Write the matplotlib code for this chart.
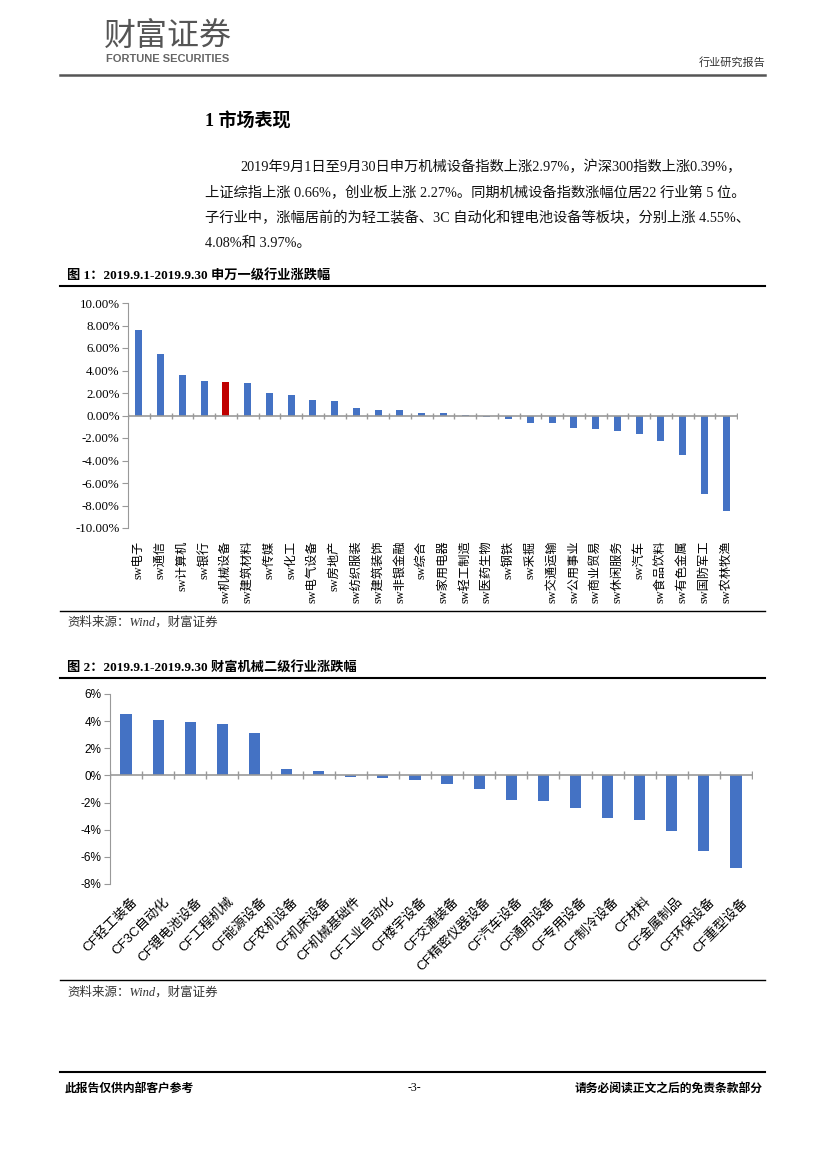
import numpy as np
import matplotlib
matplotlib.use('Agg')
import matplotlib.pyplot as plt
from matplotlib.lines import Line2D
from matplotlib.ticker import FuncFormatter

plt.rcParams['font.family'] = ['Liberation Serif', 'Noto Sans CJK SC', 'DejaVu Sans']
plt.rcParams['axes.unicode_minus'] = False

# 图1 申万一级行业涨跌幅 (%)
sw_names = ['sw电子', 'sw通信', 'sw计算机', 'sw银行', 'sw机械设备', 'sw建筑材料', 'sw传媒',
            'sw化工', 'sw电气设备', 'sw房地产', 'sw纺织服装', 'sw建筑装饰', 'sw非银金融', 'sw综合',
            'sw家用电器', 'sw轻工制造', 'sw医药生物', 'sw钢铁', 'sw采掘', 'sw交通运输', 'sw公用事业',
            'sw商业贸易', 'sw休闲服务', 'sw汽车', 'sw食品饮料', 'sw有色金属', 'sw国防军工', 'sw农林牧渔']
sw_values = [7.60, 5.50, 3.60, 3.10, 2.97, 2.85, 2.00, 1.80, 1.40, 1.30, 0.70, 0.50, 0.45, 0.25,
             0.20, 0.05, -0.10, -0.30, -0.65, -0.70, -1.10, -1.20, -1.40, -1.60, -2.25, -3.50,
             -6.95, -8.50]
highlight = 'sw机械设备'

# 图2 财富机械二级行业涨跌幅 (%)
cf_names = ['CF轻工装备', 'CF3C自动化', 'CF锂电池设备', 'CF工程机械', 'CF能源设备', 'CF农机设备',
            'CF机床设备', 'CF机械基础件', 'CF工业自动化', 'CF楼宇设备', 'CF交通装备', 'CF精密仪器设备',
            'CF汽车设备', 'CF通用设备', 'CF专用设备', 'CF制冷设备', 'CF材料', 'CF金属制品',
            'CF环保设备', 'CF重型设备']
cf_values = [4.55, 4.08, 3.97, 3.80, 3.15, 0.50, 0.30, -0.15, -0.20, -0.30, -0.65, -1.00,
             -1.80, -1.85, -2.40, -3.10, -3.25, -4.10, -5.55, -6.85]

BLUE = '#4472C4'
RED = '#C00000'
CJK = ['Noto Sans CJK SC', 'DejaVu Sans']
SERIF = ['Liberation Serif', 'Noto Sans CJK SC']

W, H = 827, 1169
fig = plt.figure(figsize=(W / 100, H / 100), dpi=100)
fig.patch.set_facecolor('white')


def fx(x):
    return x / W


def fy(y):
    return 1 - y / H


def hline(y, x0=60, x1=765, lw=1.2, color='black'):
    fig.add_artist(Line2D([fx(x0), fx(x1)], [fy(y), fy(y)], lw=lw, color=color))


def axes_px(x0, y0, x1, y1):
    return fig.add_axes([fx(x0), fy(y1), fx(x1) - fx(x0), fy(y0) - fy(y1)])


# 页眉
fig.text(fx(104), fy(37), '财富证券', family=CJK, fontsize=23, color='#555555', va='center')
fig.text(fx(106), fy(59), 'FORTUNE SECURITIES', family=['Liberation Sans'], fontsize=8,
         fontweight='bold', color='#666666', va='center')
fig.text(fx(765), fy(62), '行业研究报告', family=CJK, fontsize=8, color='#333333',
         ha='right', va='center')
hline(75, lw=1.8, color='#555555')

# 正文
fig.text(fx(205), fy(122), '1 市场表现', family=SERIF, fontsize=13, fontweight='bold', va='center')
para = ['2019年9月1日至9月30日申万机械设备指数上涨2.97%，沪深300指数上涨0.39%，',
        '上证综指上涨 0.66%，创业板上涨 2.27%。同期机械设备指数涨幅位居22 行业第 5 位。',
        '子行业中，涨幅居前的为轻工装备、3C 自动化和锂电池设备等板块，分别上涨 4.55%、',
        '4.08%和 3.97%。']
para_x = [240, 205, 205, 205]
para_y = [167, 193, 218, 243]
for t, x, y in zip(para, para_x, para_y):
    fig.text(fx(x), fy(y), t, family=SERIF, fontsize=10.3, va='center', color='#111111')

# 图1
fig.text(fx(67), fy(275), '图 1：2019.9.1-2019.9.30 申万一级行业涨跌幅', family=SERIF,
         fontsize=9.5, fontweight='bold', va='center')
hline(286, lw=1.5)

ax1 = axes_px(128, 303, 737, 528)
x1 = np.arange(len(sw_names))
colors1 = [RED if n == highlight else BLUE for n in sw_names]
ax1.bar(x1, sw_values, width=0.33, color=colors1, zorder=2)
ax1.set_xlim(-0.5, len(sw_names) - 0.5)
ax1.set_ylim(-10, 10)
ax1.set_yticks(np.arange(-10, 10.1, 2))
ax1.yaxis.set_major_formatter(FuncFormatter(lambda v, _: '{:.2f}%'.format(v)))
ax1.axhline(0, color='#999999', lw=1.2, zorder=3)
ax1.plot(np.arange(len(sw_names) + 1) - 0.5, np.zeros(len(sw_names) + 1), ls='none',
         marker='|', ms=5, color='#999999', zorder=3)
ax1.set_xticks(x1)
ax1.set_xticklabels(sw_names, rotation=90, va='top', ha='center', family=SERIF, fontsize=8.8)
ax1.tick_params(axis='x', length=0, pad=9)
ax1.tick_params(axis='y', length=4, color='#999999', labelsize=9.3, pad=2)
for s in ['top', 'right', 'bottom']:
    ax1.spines[s].set_visible(False)
ax1.spines['left'].set_color('#999999')

hline(611, lw=1.0)
fig.text(fx(67), fy(622), '资料来源：Wind，财富证券', family=SERIF, fontsize=9,
         style='italic', va='center', color='#333333')

# 图2
fig.text(fx(67), fy(667), '图 2：2019.9.1-2019.9.30 财富机械二级行业涨跌幅', family=SERIF,
         fontsize=9.5, fontweight='bold', va='center')
hline(678, lw=1.5)

ax2 = axes_px(110, 694, 752, 884)
x2 = np.arange(len(cf_names))
ax2.bar(x2, cf_values, width=0.35, color=BLUE, zorder=2)
ax2.set_xlim(-0.5, len(cf_names) - 0.5)
ax2.set_ylim(-8, 6)
ax2.set_yticks(np.arange(-8, 6.1, 2))
ax2.yaxis.set_major_formatter(FuncFormatter(lambda v, _: '{:.0f}%'.format(v)))
ax2.axhline(0, color='#999999', lw=1.2, zorder=3)
ax2.plot(np.arange(len(cf_names) + 1) - 0.5, np.zeros(len(cf_names) + 1), ls='none',
         marker='|', ms=6, color='#999999', zorder=3)
ax2.set_xticks(x2 + 0.15)
ax2.set_xticklabels(cf_names, rotation=45, ha='right', va='top', rotation_mode='anchor',
                    family=['Liberation Sans', 'Noto Sans CJK SC'], fontsize=9.6)
ax2.tick_params(axis='x', length=0, pad=8)
ax2.tick_params(axis='y', length=4, color='#999999', pad=2)
for lab in ax2.get_yticklabels():
    lab.set_family(['Liberation Sans'])
    lab.set_fontsize(8.5)
for s in ['top', 'right', 'bottom']:
    ax2.spines[s].set_visible(False)
ax2.spines['left'].set_color('#999999')

hline(980, lw=1.0)
fig.text(fx(67), fy(992), '资料来源：Wind，财富证券', family=SERIF, fontsize=9,
         style='italic', va='center', color='#333333')

# 页脚
hline(1072, lw=1.5)
fig.text(fx(65), fy(1088), '此报告仅供内部客户参考', family=CJK, fontsize=8.5, fontweight='bold',
         va='center')
fig.text(fx(414), fy(1088), '-3-', family=SERIF, fontsize=8.5, ha='center', va='center')
fig.text(fx(763), fy(1088), '请务必阅读正文之后的免责条款部分', family=CJK, fontsize=8.5,
         fontweight='bold', ha='right', va='center')

fig.savefig('out.png', dpi=100)
